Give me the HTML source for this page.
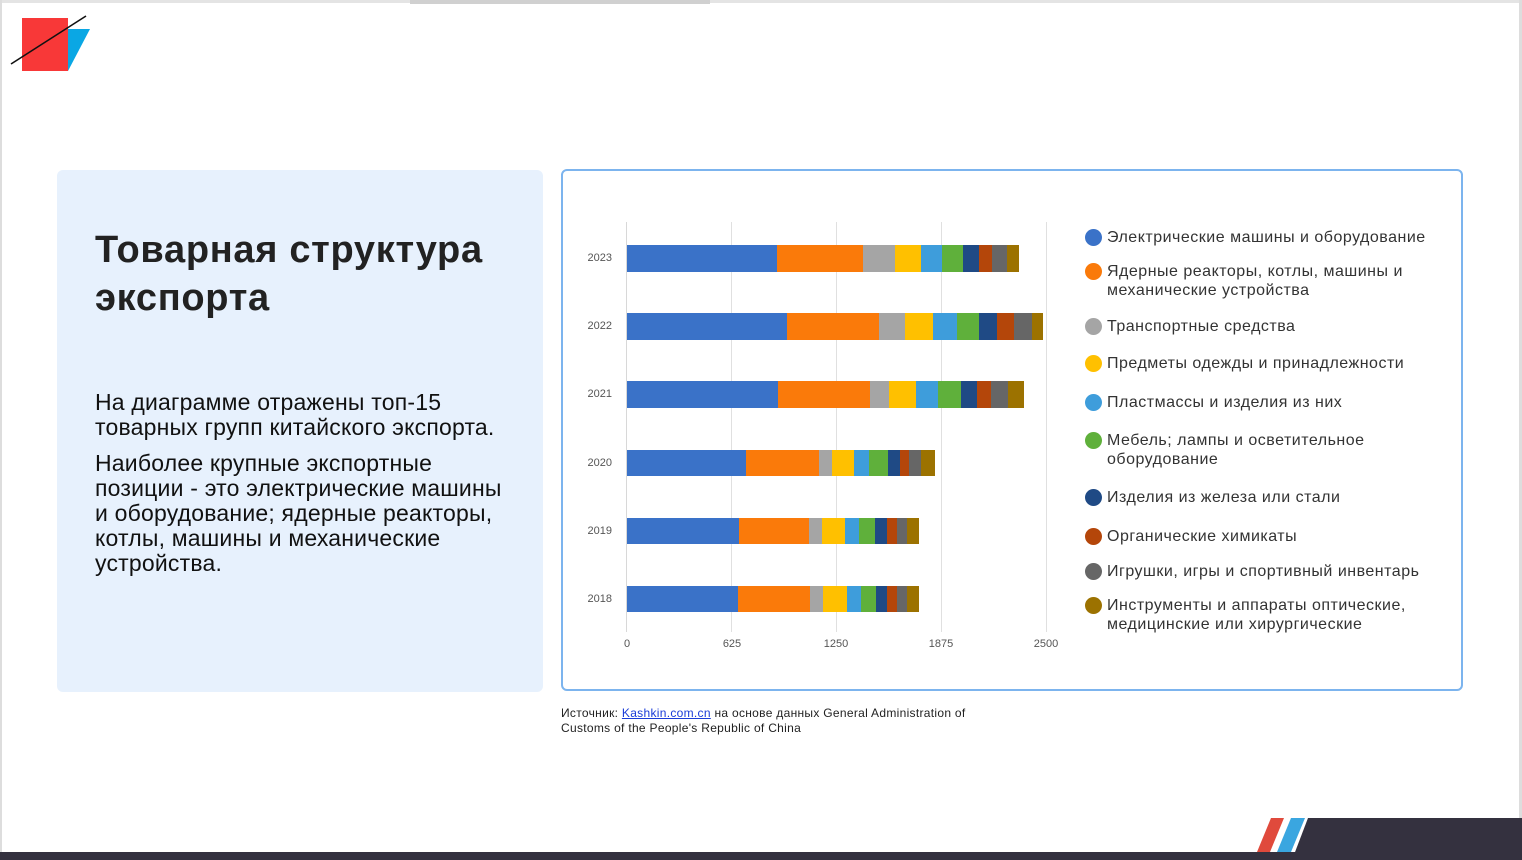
<!DOCTYPE html>
<html><head><meta charset="utf-8"><style>
*{margin:0;padding:0;box-sizing:border-box}
body{width:1522px;height:860px;background:#fff;position:relative;overflow:hidden;font-family:"Liberation Sans",sans-serif;color:#222}
.a{position:absolute}
.yl{position:absolute;left:580px;width:32px;text-align:right;font-size:11px;color:#555}
.xl{position:absolute;top:638px;font-size:11px;color:#555;width:40px;text-align:center}
.grid{position:absolute;top:222px;width:1px;height:410px;background:#e0e0e0}
.lg{position:absolute;left:1085px;font-size:16px;color:#333;line-height:19px;letter-spacing:0.5px;white-space:nowrap}
.lg i{position:absolute;left:0;top:1px;width:17px;height:17px;border-radius:50%}
.lg span{display:block;margin-left:22px}
</style></head><body>
<div class="a" style="left:0;top:0;width:1522px;height:3px;background:#e4e4e4"></div>
<div class="a" style="left:410px;top:0;width:300px;height:4px;background:#d0d0d0"></div>
<div class="a" style="left:0;top:0;width:2px;height:860px;background:#ddd"></div>
<div class="a" style="right:0;top:0;width:3px;height:860px;background:#ddd"></div>
<svg class="a" style="left:0;top:0" width="100" height="80">
<polygon points="67,29 90,29 68,71 67,71" fill="#0aa7e4"/>
<rect x="22" y="18" width="46" height="53" fill="#f83838"/>
<line x1="11" y1="64" x2="86" y2="16" stroke="#111" stroke-width="1.6"/>
</svg>
<div class="a" style="left:57px;top:170px;width:486px;height:522px;background:#e7f1fd;border-radius:6px"></div>
<div class="a" style="left:95px;top:226px;font-size:38px;font-weight:bold;line-height:48px;color:#222;letter-spacing:0.7px;white-space:nowrap">Товарная структура<br>экспорта</div>
<div class="a" style="left:95px;top:390px;font-size:23px;line-height:25px;color:#111;width:430px;letter-spacing:0.2px">На диаграмме отражены топ-15<br>товарных групп китайского экспорта.</div>
<div class="a" style="left:95px;top:451px;font-size:23px;line-height:25px;color:#111;width:430px;letter-spacing:0.2px;white-space:nowrap">Наиболее крупные экспортные<br>позиции - это электрические машины<br>и оборудование; ядерные реакторы,<br>котлы, машины и механические<br>устройства.</div>
<div class="a" style="left:561px;top:169px;width:902px;height:522px;border:2px solid #7cb4ee;border-radius:6px"></div>
<div class="grid" style="left:626px;background:#d8d8d8"></div>
<div class="grid" style="left:731px"></div>
<div class="grid" style="left:836px"></div>
<div class="grid" style="left:941px"></div>
<div class="grid" style="left:1046px"></div>
<div class="xl" style="left:607px">0</div>
<div class="xl" style="left:712px">625</div>
<div class="xl" style="left:816px">1250</div>
<div class="xl" style="left:921px">1875</div>
<div class="xl" style="left:1026px">2500</div>
<div class="yl" style="top:252px">2023</div>
<div class="yl" style="top:320px">2022</div>
<div class="yl" style="top:388px">2021</div>
<div class="yl" style="top:457px">2020</div>
<div class="yl" style="top:525px">2019</div>
<div class="yl" style="top:593px">2018</div>
<svg class="a" style="left:0;top:0" width="1522" height="860">
<g transform="translate(0,245)">
<rect x="627" width="150" height="27" fill="#3a72c8"/><rect x="777" width="86" height="27" fill="#fa7a0a"/><rect x="863" width="32" height="27" fill="#a5a5a5"/><rect x="895" width="26" height="27" fill="#ffc000"/><rect x="921" width="21" height="27" fill="#3e9ddb"/><rect x="942" width="21" height="27" fill="#5fb03b"/><rect x="963" width="16" height="27" fill="#1f4a85"/><rect x="979" width="13" height="27" fill="#b4460a"/><rect x="992" width="15" height="27" fill="#666"/><rect x="1007" width="12" height="27" fill="#9c7200"/></g>
<g transform="translate(0,313)">
<rect x="627" width="160" height="27" fill="#3a72c8"/><rect x="787" width="92" height="27" fill="#fa7a0a"/><rect x="879" width="26" height="27" fill="#a5a5a5"/><rect x="905" width="28" height="27" fill="#ffc000"/><rect x="933" width="24" height="27" fill="#3e9ddb"/><rect x="957" width="22" height="27" fill="#5fb03b"/><rect x="979" width="18" height="27" fill="#1f4a85"/><rect x="997" width="17" height="27" fill="#b4460a"/><rect x="1014" width="18" height="27" fill="#666"/><rect x="1032" width="11" height="27" fill="#9c7200"/></g>
<g transform="translate(0,381)">
<rect x="627" width="151" height="27" fill="#3a72c8"/><rect x="778" width="92" height="27" fill="#fa7a0a"/><rect x="870" width="19" height="27" fill="#a5a5a5"/><rect x="889" width="27" height="27" fill="#ffc000"/><rect x="916" width="22" height="27" fill="#3e9ddb"/><rect x="938" width="23" height="27" fill="#5fb03b"/><rect x="961" width="16" height="27" fill="#1f4a85"/><rect x="977" width="14" height="27" fill="#b4460a"/><rect x="991" width="17" height="27" fill="#666"/><rect x="1008" width="16" height="27" fill="#9c7200"/></g>
<g transform="translate(0,450)">
<rect x="627" width="119" height="26" fill="#3a72c8"/><rect x="746" width="73" height="26" fill="#fa7a0a"/><rect x="819" width="13" height="26" fill="#a5a5a5"/><rect x="832" width="22" height="26" fill="#ffc000"/><rect x="854" width="15" height="26" fill="#3e9ddb"/><rect x="869" width="19" height="26" fill="#5fb03b"/><rect x="888" width="12" height="26" fill="#1f4a85"/><rect x="900" width="9" height="26" fill="#b4460a"/><rect x="909" width="12" height="26" fill="#666"/><rect x="921" width="14" height="26" fill="#9c7200"/></g>
<g transform="translate(0,518)">
<rect x="627" width="112" height="26" fill="#3a72c8"/><rect x="739" width="70" height="26" fill="#fa7a0a"/><rect x="809" width="13" height="26" fill="#a5a5a5"/><rect x="822" width="23" height="26" fill="#ffc000"/><rect x="845" width="14" height="26" fill="#3e9ddb"/><rect x="859" width="16" height="26" fill="#5fb03b"/><rect x="875" width="12" height="26" fill="#1f4a85"/><rect x="887" width="10" height="26" fill="#b4460a"/><rect x="897" width="10" height="26" fill="#666"/><rect x="907" width="12" height="26" fill="#9c7200"/></g>
<g transform="translate(0,586)">
<rect x="627" width="111" height="26" fill="#3a72c8"/><rect x="738" width="72" height="26" fill="#fa7a0a"/><rect x="810" width="13" height="26" fill="#a5a5a5"/><rect x="823" width="24" height="26" fill="#ffc000"/><rect x="847" width="14" height="26" fill="#3e9ddb"/><rect x="861" width="15" height="26" fill="#5fb03b"/><rect x="876" width="11" height="26" fill="#1f4a85"/><rect x="887" width="10" height="26" fill="#b4460a"/><rect x="897" width="10" height="26" fill="#666"/><rect x="907" width="12" height="26" fill="#9c7200"/></g>
</svg>
<div class="lg" style="top:228px"><i style="background:#3a72c8"></i><span>Электрические машины и оборудование</span></div>
<div class="lg" style="top:262px"><i style="background:#fa7a0a"></i><span>Ядерные реакторы, котлы, машины и<br>механические устройства</span></div>
<div class="lg" style="top:317px"><i style="background:#a5a5a5"></i><span>Транспортные средства</span></div>
<div class="lg" style="top:354px"><i style="background:#ffc000"></i><span>Предметы одежды и принадлежности</span></div>
<div class="lg" style="top:393px"><i style="background:#3e9ddb"></i><span>Пластмассы и изделия из них</span></div>
<div class="lg" style="top:431px"><i style="background:#5fb03b"></i><span>Мебель; лампы и осветительное<br>оборудование</span></div>
<div class="lg" style="top:488px"><i style="background:#1f4a85"></i><span>Изделия из железа или стали</span></div>
<div class="lg" style="top:527px"><i style="background:#b4460a"></i><span>Органические химикаты</span></div>
<div class="lg" style="top:562px"><i style="background:#666"></i><span>Игрушки, игры и спортивный инвентарь</span></div>
<div class="lg" style="top:596px"><i style="background:#9c7200"></i><span>Инструменты и аппараты оптические,<br>медицинские или хирургические</span></div>
<div class="a" style="left:561px;top:706px;font-size:12px;line-height:15px;color:#222;letter-spacing:0.3px;white-space:nowrap">Источник: <span style="color:#1a3cd8;text-decoration:underline">Kashkin.com.cn</span> на основе данных General Administration of<br>Customs of the People's Republic of China</div>
<svg class="a" style="left:0;top:815px" width="1522" height="45">
<rect x="0" y="37" width="1522" height="8" fill="#34313f"/>
<polygon points="1308,3 1522,3 1522,45 1292,45" fill="#34313f"/>
<polygon points="1271,3 1284,3 1270,37 1257,37" fill="#e04a3c"/>
<polygon points="1291,3 1305,3 1291,37 1277,37" fill="#3aa6e0"/>
</svg>
</body></html>
